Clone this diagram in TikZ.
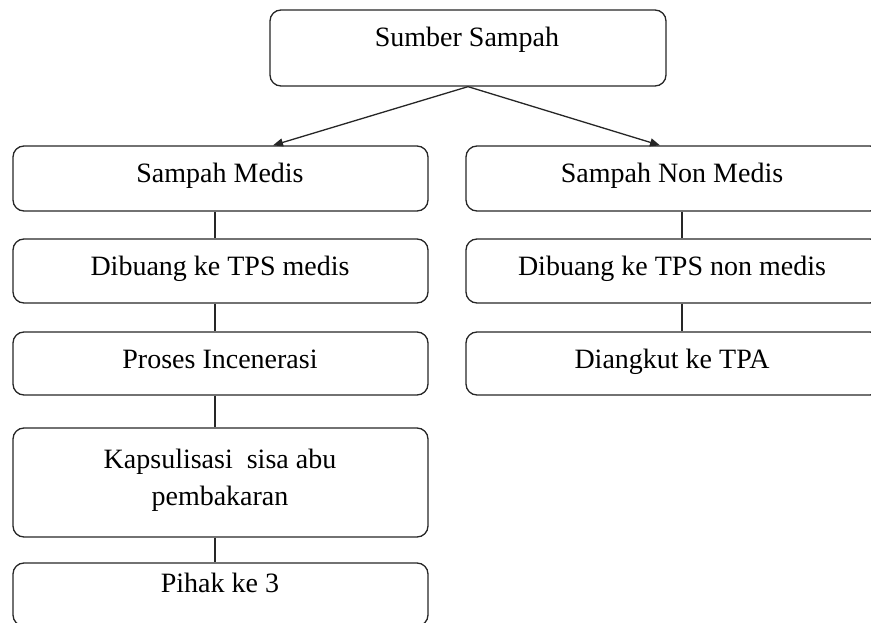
\documentclass[tikz,border=0pt]{standalone}
\usepackage{fontspec}
\setmainfont{Liberation Serif}
\usetikzlibrary{arrows.meta}
\begin{document}
\begin{tikzpicture}[x=1pt,y=-1pt,
  box/.style={rectangle, draw=black!85, line width=1.3pt, rounded corners=11pt, inner sep=0pt},
  lbl/.style={anchor=base, inner sep=0pt, text=black, font=\fontsize{28}{37}\selectfont},
  link/.style={draw=black!85, line width=1.3pt},
  flow/.style={link, -{Triangle[length=10pt,width=8pt]}}]
\useasboundingbox (0,0) rectangle (871,623);
\clip (0,0) rectangle (871,623);

% source
\node[box, minimum width=396pt, minimum height=76pt] (src) at (468,48) {};
\node[lbl] (srcT) at (467,47) {Sumber Sampah};

% medical waste column
\node[box, minimum width=415pt, minimum height=65pt] (m1) at (220.5,178.5) {};
\node[box, minimum width=415pt, minimum height=64pt] (m2) at (220.5,271) {};
\node[box, minimum width=415pt, minimum height=63pt] (m3) at (220.5,363.5) {};
\node[box, minimum width=415pt, minimum height=109pt] (m4) at (220.5,482.5) {};
\node[box, minimum width=415pt, minimum height=63pt] (m5) at (220.5,594.5) {};
\node[lbl] (m1T) at (220,183) {Sampah Medis};
\node[lbl] (m2T) at (220,275) {Dibuang ke TPS medis};
\node[lbl] (m3T) at (220,368) {Proses Incenerasi};
\node[lbl] (m4T) at (220,468) {Kapsulisasi\ \ sisa abu};
\node[lbl] (m4U) at (220,505) {pembakaran};
\node[lbl] (m5T) at (220,592) {Pihak ke 3};

% non-medical waste column
\node[box, minimum width=415pt, minimum height=65pt] (n1) at (673.5,178.5) {};
\node[box, minimum width=415pt, minimum height=64pt] (n2) at (673.5,271) {};
\node[box, minimum width=415pt, minimum height=63pt] (n3) at (673.5,363.5) {};
\node[lbl] (n1T) at (672,183) {Sampah Non Medis};
\node[lbl] (n2T) at (672,275) {Dibuang ke TPS non medis};
\node[lbl] (n3T) at (672,368) {Diangkut ke TPA};

% connector columns
\coordinate (tipL) at (273,0);
\coordinate (tipR) at (660,0);
\coordinate (colL) at (215,0);
\coordinate (colR) at (682,0);

\draw[flow] (src.south) -- (m1.north -| tipL);
\draw[flow] (src.south) -- (n1.north -| tipR);

\draw[link] (m1.south -| colL) -- (m2.north -| colL);
\draw[link] (m2.south -| colL) -- (m3.north -| colL);
\draw[link] (m3.south -| colL) -- (m4.north -| colL);
\draw[link] (m4.south -| colL) -- (m5.north -| colL);

\draw[link] (n1.south -| colR) -- (n2.north -| colR);
\draw[link] (n2.south -| colR) -- (n3.north -| colR);
\end{tikzpicture}
\end{document}
